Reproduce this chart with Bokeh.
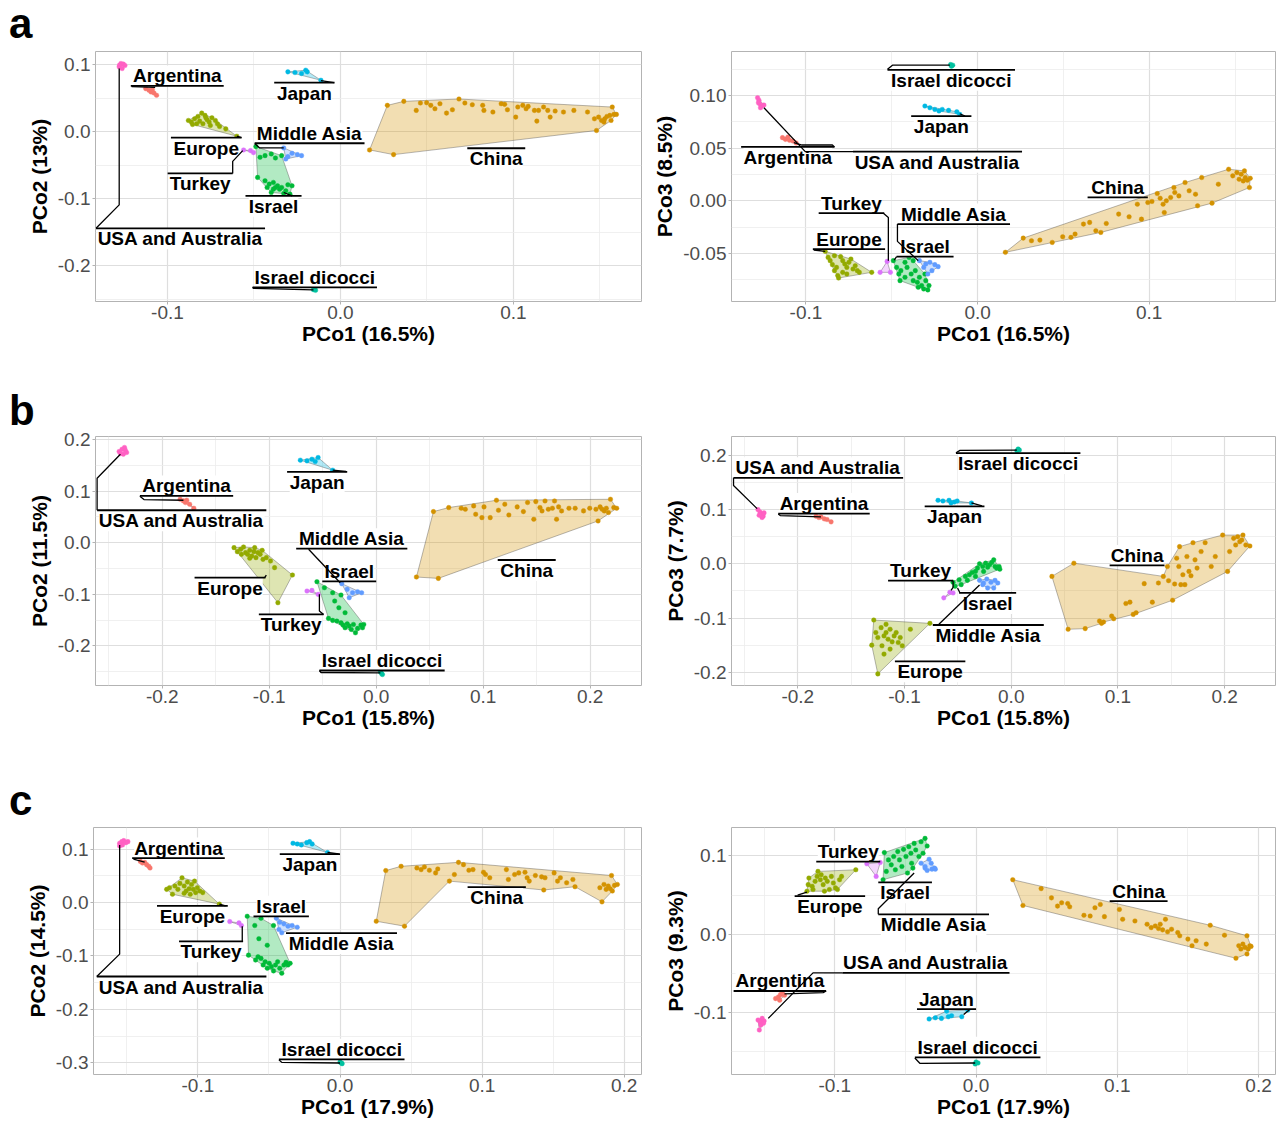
from bokeh.plotting import figure
from bokeh.layouts import row, column
from bokeh.models import FixedTicker, PrintfTickFormatter, Range1d, ColumnDataSource, Div
from bokeh.embed import file_html
from bokeh.resources import INLINE
from bokeh.core.properties import value

FONT = "Liberation Sans"
GROUPS = ["Argentina", "China", "Europe", "Israel", "Israel dicocci", "Japan",
          "Middle Asia", "Turkey", "USA and Australia"]
COLORS = ["#F8766D", "#D39200", "#93AA00", "#00BA38", "#00C19F", "#00B9E3",
          "#619CFF", "#DB72FB", "#FF61C3"]

# ---------------- panel a, PCo1 vs PCo2 ----------------
a1_usa_x = [-0.1279, -0.1269, -0.1255, -0.1246, -0.1262, -0.1277]
a1_usa_y = [0.0965, 0.1015, 0.1005, 0.0985, 0.094, 0.099]
a1_arg_x = [-0.1126, -0.1107, -0.1095, -0.1078, -0.1063, -0.1087]
a1_arg_y = [0.064, 0.0615, 0.059, 0.0575, 0.054, 0.0625]
a1_jap_x = [-0.0304, -0.0263, -0.0225, -0.0201, -0.0192, -0.0113]
a1_jap_y = [0.089, 0.088, 0.0865, 0.0915, 0.089, 0.0765]
a1_eur_x = [-0.0879, -0.0862, -0.0843, -0.0824, -0.0802, -0.0783, -0.0771, -0.0759, -0.0743, -0.0723,
            -0.0711, -0.0795, -0.0831, -0.0855, -0.0699, -0.0663, -0.0599, -0.0814, -0.0752, -0.0778]
a1_eur_y = [0.0165, 0.014, 0.019, 0.0225, 0.0275, 0.024, 0.0175, 0.014, 0.0205, 0.0165,
            0.0115, 0.0115, 0.0115, 0.0105, 0.0075, 0.004, -0.007, 0.0155, 0.009, 0.0205]
a1_tur_x = [-0.056, -0.052, -0.0503]
a1_tur_y = [-0.0275, -0.0285, -0.0315]
a1_isr_x = [-0.0489, -0.0465, -0.0436, -0.04, -0.0376, -0.034, -0.0479, -0.0436, -0.0412, -0.0388, -0.0376,
            -0.0364, -0.0352, -0.034, -0.0316, -0.0304, -0.028, -0.0328, -0.0292, -0.0388, -0.0424, -0.04]
a1_isr_y = [-0.0225, -0.0385, -0.036, -0.0335, -0.0395, -0.036, -0.0685, -0.0735, -0.0785, -0.076, -0.0835,
            -0.081, -0.086, -0.0835, -0.0885, -0.0795, -0.081, -0.0925, -0.0935, -0.086, -0.0835, -0.091]
a1_mas_x = [-0.0328, -0.0304, -0.028, -0.0249, -0.0225, -0.0316]
a1_mas_y = [-0.0245, -0.0375, -0.0325, -0.0345, -0.036, -0.041]
a1_dic_x = [-0.0156, -0.0144, -0.0149]
a1_dic_y = [-0.236, -0.237, -0.235]
a1_chn_x = [0.0168, 0.0307, 0.0271, 0.0366, 0.0438, 0.0462, 0.0498, 0.0522, 0.0546, 0.0575, 0.0613, 0.0647,
            0.0685, 0.0719, 0.0762, 0.0822, 0.0829, 0.0881, 0.0929, 0.0949, 0.0965, 0.1013, 0.1025, 0.1054,
            0.1073, 0.1085, 0.1121, 0.1135, 0.1145, 0.1174, 0.1198, 0.1212, 0.1241, 0.1289, 0.1349, 0.1428,
            0.1468, 0.148, 0.1492, 0.1509, 0.1528, 0.154, 0.1557, 0.1571, 0.1581, 0.1595, 0.1564, 0.1523]
a1_chn_y = [-0.0275, -0.0345, 0.039, 0.045, 0.0315, 0.0425, 0.043, 0.039, 0.034, 0.0415, 0.0275, 0.0325,
            0.0485, 0.0425, 0.04, 0.039, 0.0315, 0.029, 0.0415, 0.0405, 0.0325, 0.0215, 0.0365, 0.039,
            0.034, 0.0375, 0.0315, 0.0155, 0.0315, 0.0365, 0.0315, 0.0215, 0.0305, 0.029, 0.0315, 0.029,
            0.019, 0.0015, 0.0215, 0.0165, 0.019, 0.0225, 0.024, 0.0365, 0.0255, 0.0255, 0.0165, 0.014]

# ---------------- panel a, PCo1 vs PCo3 ----------------
a2_usa_x = [-0.1282, -0.1274, -0.127, -0.1258, -0.1245, -0.1265, -0.1277]
a2_usa_y = [0.0979, 0.0954, 0.0922, 0.09, 0.0909, 0.0884, 0.0931]
a2_arg_x = [-0.1137, -0.112, -0.1105, -0.1096, -0.1076, -0.1057]
a2_arg_y = [0.06, 0.0584, 0.0606, 0.0575, 0.0568, 0.0549]
a2_dic_x = [-0.0157, -0.0145, -0.0152]
a2_dic_y = [0.1294, 0.1288, 0.1279]
a2_jap_x = [-0.0307, -0.0278, -0.0249, -0.0225, -0.0206, -0.0169, -0.0121, -0.0104]
a2_jap_y = [0.09, 0.0884, 0.0868, 0.0853, 0.0868, 0.0859, 0.0846, 0.0821]
a2_eur_x = [-0.0888, -0.0871, -0.0859, -0.0846, -0.0834, -0.0815, -0.081, -0.0798, -0.0786, -0.0774, -0.0762,
            -0.075, -0.0738, -0.0726, -0.0713, -0.0701, -0.0689, -0.0786, -0.0822, -0.0834, -0.0617, -0.0762]
a2_eur_y = [-0.048, -0.0537, -0.0568, -0.0606, -0.0663, -0.071, -0.0733, -0.053, -0.0568, -0.06, -0.0632,
            -0.0584, -0.0553, -0.0647, -0.0616, -0.0663, -0.0679, -0.0679, -0.0632, -0.0521, -0.0679, -0.0695]
a2_tur_x = [-0.0527, -0.0568, -0.0508]
a2_tur_y = [-0.0575, -0.0679, -0.0679]
a2_isr_x = [-0.0491, -0.0472, -0.0459, -0.0447, -0.0423, -0.0411, -0.0399, -0.0387, -0.0375, -0.0363, -0.0351,
            -0.0346, -0.0339, -0.0326, -0.0314, -0.0302, -0.029, -0.0283, -0.0307, -0.0423, -0.0452, -0.0375]
a2_isr_y = [-0.0568, -0.0632, -0.0695, -0.0663, -0.0726, -0.0632, -0.0537, -0.0695, -0.0758, -0.0663, -0.0774,
            -0.0821, -0.0726, -0.0805, -0.0837, -0.0758, -0.0846, -0.0805, -0.0695, -0.0584, -0.0758, -0.0568]
a2_mas_x = [-0.0339, -0.0302, -0.0278, -0.0249, -0.023, -0.0266, -0.029, -0.0314]
a2_mas_y = [-0.0568, -0.06, -0.0584, -0.0606, -0.0625, -0.0663, -0.0695, -0.0632]
a2_chn_x = [0.0162, 0.0266, 0.0314, 0.0363, 0.0435, 0.0496, 0.0544, 0.0568, 0.0617, 0.0653, 0.0689, 0.0718,
            0.075, 0.0822, 0.0883, 0.0931, 0.0955, 0.0992, 0.1016, 0.1047, 0.1064, 0.1081, 0.1088, 0.11,
            0.1125, 0.1144, 0.1149, 0.1173, 0.1209, 0.1233, 0.127, 0.1282, 0.1306, 0.1366, 0.1403, 0.1463,
            0.1487, 0.1511, 0.1524, 0.1536, 0.1548, 0.156, 0.1572, 0.1584, 0.1589, 0.1555]
a2_chn_y = [-0.0489, -0.0354, -0.0379, -0.0373, -0.0395, -0.0341, -0.0347, -0.0316, -0.0221, -0.0205, -0.0284,
            -0.03, -0.0215, -0.0126, -0.0152, -0.0032, -0.0174, -0.0016, -0.0006, 0.0069, 0.0025, -0.0032,
            -0.0111, 0.0, 0.0032, 0.0126, 0.0079, 0.0047, 0.0174, 0.0095, 0.0063, -0.0047, 0.0221, -0.0022,
            0.0158, 0.03, 0.0237, 0.0268, 0.0205, 0.0253, 0.0189, 0.0221, 0.0196, 0.0126, 0.0215, 0.0284]

# ---------------- panel b, PCo1 vs PCo2 ----------------
b1_usa_x = [-0.2403, -0.2376, -0.2353, -0.2333, -0.2364, -0.2391, -0.2345]
b1_usa_y = [0.1767, 0.1812, 0.1845, 0.1748, 0.1715, 0.1728, 0.1793]
b1_arg_x = [-0.1833, -0.1802, -0.1771, -0.1783, -0.1744, -0.1705]
b1_arg_y = [0.0841, 0.0809, 0.0822, 0.0777, 0.0744, 0.0667]
b1_jap_x = [-0.0709, -0.0647, -0.0601, -0.057, -0.0543, -0.0407]
b1_jap_y = [0.1599, 0.1586, 0.1618, 0.1573, 0.165, 0.1405]
b1_eur_x = [-0.1329, -0.1298, -0.1267, -0.124, -0.1221, -0.1202, -0.1182, -0.1163, -0.1143, -0.1124, -0.1105,
            -0.1085, -0.1066, -0.1058, -0.1182, -0.126, -0.0988, -0.095, -0.0783, -0.0919, -0.1027, -0.1136]
b1_eur_y = [-0.0097, -0.0175, -0.0129, -0.0084, -0.0194, -0.0227, -0.0149, -0.0259, -0.0175, -0.0291, -0.0194,
            -0.0227, -0.0149, -0.0324, -0.0304, -0.0227, -0.0356, -0.0485, -0.0628, -0.1165, -0.0291, -0.0097]
b1_tur_x = [-0.0647, -0.0601, -0.0543]
b1_tur_y = [-0.0939, -0.0926, -0.1003]
b1_isr_x = [-0.0554, -0.0484, -0.0407, -0.0329, -0.0388, -0.0446, -0.0407, -0.0368, -0.0329, -0.031, -0.0291,
            -0.0271, -0.0252, -0.0233, -0.0213, -0.0194, -0.0174, -0.0143, -0.0116, -0.0128, -0.0349, -0.0291]
b1_isr_y = [-0.0757, -0.0874, -0.0971, -0.1016, -0.1133, -0.1469, -0.1508, -0.1521, -0.1553, -0.1599, -0.165,
            -0.1573, -0.1618, -0.1683, -0.1586, -0.1748, -0.1663, -0.1599, -0.1586, -0.165, -0.1262, -0.1359]
b1_mas_x = [-0.0322, -0.0271, -0.0252, -0.0221, -0.0174, -0.0136]
b1_mas_y = [-0.0796, -0.0906, -0.1068, -0.0971, -0.0951, -0.0971]
b1_dic_x = [0.005, 0.0039, 0.0058]
b1_dic_y = [-0.2537, -0.2505, -0.2557]
b1_chn_x = [0.0376, 0.0581, 0.0535, 0.0678, 0.0795, 0.0833, 0.0911, 0.093, 0.0988, 0.1008, 0.1124, 0.1066,
            0.1143, 0.1202, 0.124, 0.1318, 0.1376, 0.1415, 0.1473, 0.1492, 0.1531, 0.155, 0.1578, 0.1609,
            0.1647, 0.1667, 0.1686, 0.1705, 0.1733, 0.1802, 0.186, 0.1938, 0.1996, 0.2054, 0.2074, 0.2093,
            0.2132, 0.2151, 0.2171, 0.219, 0.2221, 0.2248, 0.2112]
b1_chn_y = [-0.0667, -0.0693, 0.0602, 0.068, 0.0667, 0.0647, 0.0712, 0.055, 0.0485, 0.0693, 0.0822, 0.0485,
            0.0628, 0.0744, 0.0537, 0.0693, 0.0602, 0.0777, 0.0453, 0.0796, 0.068, 0.0615, 0.0809, 0.0647,
            0.0667, 0.0809, 0.0453, 0.0693, 0.0615, 0.0667, 0.0667, 0.0615, 0.0667, 0.0647, 0.0421, 0.0693,
            0.0615, 0.0667, 0.0583, 0.0841, 0.068, 0.0667, 0.0647]

# ---------------- panel b, PCo1 vs PCo3 ----------------
b2_usa_x = [-0.2373, -0.2354, -0.2343, -0.2324, -0.2316, -0.2335, -0.2362]
b2_usa_y = [0.1, 0.0957, 0.0915, 0.0878, 0.0939, 0.0854, 0.0896]
b2_arg_x = [-0.1829, -0.1802, -0.1783, -0.1752, -0.1726, -0.1688]
b2_arg_y = [0.0878, 0.0854, 0.0866, 0.0829, 0.0817, 0.0774]
b2_dic_x = [0.0065, 0.0076, 0.0053]
b2_dic_y = [0.2116, 0.2098, 0.2085]
b2_jap_x = [-0.0686, -0.064, -0.0583, -0.0564, -0.0533, -0.0507, -0.0373]
b2_jap_y = [0.1171, 0.1159, 0.1171, 0.1122, 0.114, 0.1159, 0.1122]
b2_tur_x = [-0.0632, -0.0575, -0.0545]
b2_tur_y = [-0.0628, -0.0524, -0.0537]
b2_isr_x = [-0.0545, -0.0488, -0.043, -0.0392, -0.0366, -0.0335, -0.0316, -0.0297, -0.0267, -0.024, -0.0221,
            -0.0202, -0.0183, -0.0164, -0.0152, -0.0137, -0.0114, -0.0107, -0.0259, -0.0335, -0.0411, -0.0469,
            -0.0526]
b2_isr_y = [-0.0341, -0.0293, -0.0232, -0.0201, -0.0159, -0.014, -0.0079, 0.0, -0.0049, 0.0012, -0.0061,
            -0.0018, 0.0024, 0.0073, -0.0049, -0.0079, -0.0049, -0.0098, -0.014, -0.0232, -0.0305, -0.0384,
            -0.0415]
b2_mas_x = [-0.0297, -0.0259, -0.0229, -0.019, -0.0152, -0.0126, -0.0164, -0.0221, -0.0267]
b2_mas_y = [-0.0305, -0.0354, -0.028, -0.0341, -0.0305, -0.0354, -0.0445, -0.0445, -0.0384]
b2_eur_x = [-0.1288, -0.1307, -0.125, -0.0762, -0.1269, -0.125, -0.1219, -0.1192, -0.1173, -0.1154, -0.1135,
            -0.1116, -0.1097, -0.1078, -0.1059, -0.104, -0.1021, -0.1192, -0.1135, -0.1211, -0.0945, -0.1173]
b2_eur_y = [-0.1037, -0.15, -0.203, -0.1098, -0.1268, -0.136, -0.1177, -0.1329, -0.1268, -0.139, -0.1207,
            -0.1439, -0.1329, -0.1268, -0.1451, -0.136, -0.1512, -0.1665, -0.1573, -0.1512, -0.1207, -0.1116]
b2_chn_x = [0.0381, 0.0533, 0.0587, 0.0693, 0.0827, 0.0846, 0.0865, 0.096, 0.0941, 0.1074, 0.1112, 0.1143,
            0.117, 0.1246, 0.1322, 0.1379, 0.1425, 0.1463, 0.1474, 0.1512, 0.1531, 0.155, 0.157, 0.1589,
            0.1608, 0.1627, 0.1646, 0.1665, 0.1684, 0.1703, 0.1722, 0.1741, 0.1779, 0.1817, 0.1874, 0.1912,
            0.1981, 0.2027, 0.2046, 0.2084, 0.2103, 0.2122, 0.2141, 0.2171, 0.2198, 0.2236, 0.216, 0.1577]
b2_chn_y = [-0.0232, -0.1207, 0.0012, -0.1195, -0.1055, -0.1098, -0.1073, -0.1012, -0.0963, -0.0732, -0.0707,
            -0.0933, -0.0902, -0.0366, -0.0707, -0.0354, -0.0232, -0.0049, -0.0311, -0.0671, -0.0372, 0.0104,
            -0.0049, -0.0384, -0.0201, -0.0384, 0.0134, -0.014, -0.022, 0.039, 0.0073, -0.0079, 0.0226, 0.039,
            -0.0049, 0.0134, 0.053, -0.014, 0.0226, 0.047, 0.0348, 0.05, 0.0409, 0.053, 0.0348, 0.0329, 0.0439,
            0.0317]
b2_chn_hull = [0, 2, 16, 17, 47, 29, 36, 43, 45, 37, 19, 11, 6, 5, 3, 1]

# ---------------- panel c, PCo1 vs PCo2 ----------------
c1_usa_x = [-0.1551, -0.1536, -0.1522, -0.1507, -0.1493, -0.1531, -0.1551]
c1_usa_y = [0.1108, 0.1138, 0.1157, 0.112, 0.1138, 0.1077, 0.1058]
c1_arg_x = [-0.1405, -0.139, -0.1375, -0.1361, -0.1346, -0.1337]
c1_arg_y = [0.0769, 0.0738, 0.0751, 0.0708, 0.0677, 0.0646]
c1_jap_x = [-0.0331, -0.0301, -0.0272, -0.0234, -0.0214, -0.0196, -0.0088]
c1_jap_y = [0.1108, 0.1095, 0.1077, 0.112, 0.1138, 0.1095, 0.0935]
c1_eur_x = [-0.122, -0.12, -0.1179, -0.1162, -0.1141, -0.1127, -0.1112, -0.1097, -0.1083, -0.1074, -0.1062,
            -0.1045, -0.1033, -0.1024, -0.1016, -0.1004, -0.0986, -0.0966, -0.1054, -0.0849, -0.1097]
c1_eur_y = [0.0246, 0.0277, 0.0154, 0.0308, 0.0246, 0.0357, 0.0462, 0.0308, 0.0215, 0.0382, 0.0258,
            0.0338, 0.0246, 0.04, 0.0185, 0.0277, 0.0215, 0.0185, 0.0154, -0.0031, 0.0172]
c1_tur_x = [-0.0776, -0.0711, -0.0694]
c1_tur_y = [-0.0357, -0.0382, -0.0431]
c1_isr_x = [-0.0653, -0.0644, -0.06, -0.0556, -0.0577, -0.0556, -0.0541, -0.0527, -0.0512, -0.0498, -0.0483,
            -0.0468, -0.0468, -0.0454, -0.0439, -0.0424, -0.041, -0.0395, -0.038, -0.0366, -0.0351, -0.0571,
            -0.0512, -0.0594]
c1_isr_y = [-0.0258, -0.0985, -0.0431, -0.0295, -0.1015, -0.1046, -0.1169, -0.1108, -0.1231, -0.1138, -0.12,
            -0.0431, -0.128, -0.1169, -0.1108, -0.1231, -0.1323, -0.1169, -0.112, -0.1169, -0.1138, -0.0677,
            -0.08, -0.1077]
c1_mas_x = [-0.0448, -0.0424, -0.0395, -0.0366, -0.0337, -0.0301, -0.041, -0.043]
c1_mas_y = [-0.0295, -0.0369, -0.04, -0.0443, -0.0431, -0.0462, -0.0566, -0.0505]
c1_dic_x = [0.0009, 0.0, 0.0015]
c1_dic_y = [-0.3003, -0.2985, -0.3015]
c1_chn_x = [0.0255, 0.0322, 0.043, 0.0454, 0.0541, 0.0571, 0.0594, 0.0629, 0.0673, 0.0688, 0.077, 0.0805,
            0.0834, 0.0869, 0.0907, 0.0936, 0.101, 0.1024, 0.1054, 0.1171, 0.1185, 0.1229, 0.1258, 0.1302,
            0.1317, 0.1332, 0.1375, 0.1419, 0.1434, 0.1443, 0.1507, 0.1531, 0.1551, 0.1595, 0.1639, 0.1654,
            0.1829, 0.1844, 0.1858, 0.1873, 0.1888, 0.1902, 0.1911, 0.1932, 0.1952, 0.1917]
c1_chn_y = [-0.0351, 0.0597, 0.0677, -0.0443, 0.0646, 0.0615, 0.0665, 0.0603, 0.0554, 0.0628, 0.04, 0.0523,
            0.0751, 0.0708, 0.0603, 0.0615, 0.0566, 0.0523, 0.0462, 0.0615, 0.0431, 0.0523, 0.0554, 0.0566,
            0.0462, 0.04, 0.0505, 0.048, 0.0234, 0.0462, 0.0554, 0.04, 0.0462, 0.0369, 0.0431, 0.0295,
            0.0277, 0.0012, 0.0338, 0.0246, 0.0308, 0.0258, 0.0505, 0.032, 0.0338, 0.0215]
c1_chn_hull = [0, 1, 2, 12, 42, 44, 45, 37, 35, 28, 10, 3]

# ---------------- panel c, PCo1 vs PCo3 ----------------
c2_usa_x = [-0.1543, -0.1529, -0.1514, -0.15, -0.1523, -0.1534, -0.1505]
c2_usa_y = [-0.1097, -0.1118, -0.1076, -0.111, -0.116, -0.1224, -0.1139]
c2_arg_x = [-0.1419, -0.1399, -0.1384, -0.137, -0.1356, -0.139]
c2_arg_y = [-0.0823, -0.0802, -0.0772, -0.0759, -0.0781, -0.0844]
c2_jap_x = [-0.0332, -0.0288, -0.0245, -0.0208, -0.0196, -0.0173, -0.0101, -0.0058]
c2_jap_y = [-0.1084, -0.1068, -0.1076, -0.0983, -0.1055, -0.1042, -0.1055, -0.097]
c2_dic_x = [0.0, 0.0014, -0.0006]
c2_dic_y = [-0.1633, -0.1646, -0.1658]
c2_eur_x = [-0.1197, -0.1188, -0.1183, -0.116, -0.1139, -0.1125, -0.1119, -0.1102, -0.1096, -0.1082, -0.1067,
            -0.1053, -0.1038, -0.1024, -0.101, -0.0995, -0.0981, -0.0966, -0.0952, -0.0851, -0.1073, -0.1154]
c2_eur_y = [0.0549, 0.0633, 0.0717, 0.0612, 0.0675, 0.0738, 0.0802, 0.0696, 0.076, 0.0633, 0.0717,
            0.0675, 0.057, 0.0738, 0.0654, 0.0591, 0.057, 0.0696, 0.0738, 0.0823, 0.0549, 0.057]
c2_tur_x = [-0.0773, -0.0678, -0.0707]
c2_tur_y = [0.0899, 0.0916, 0.0738]
c2_isr_x = [-0.0649, -0.0658, -0.0635, -0.062, -0.06, -0.0583, -0.0571, -0.0554, -0.0542, -0.0525, -0.0513,
            -0.0496, -0.0485, -0.0476, -0.0461, -0.0456, -0.0438, -0.0427, -0.0404, -0.0389, -0.0361, -0.0346,
            -0.0375, -0.0447]
c2_isr_y = [0.1042, 0.0696, 0.0802, 0.0949, 0.0886, 0.0992, 0.0823, 0.1055, 0.0949, 0.0865, 0.1084,
            0.0992, 0.0781, 0.1118, 0.1034, 0.0907, 0.116, 0.1076, 0.0992, 0.1181, 0.1224, 0.1127,
            0.1034, 0.0844]
c2_mas_x = [-0.0389, -0.0361, -0.0346, -0.0332, -0.0312, -0.0294, -0.0288, -0.0317, -0.0361]
c2_mas_y = [0.0907, 0.0844, 0.0814, 0.0958, 0.0831, 0.0844, 0.0831, 0.0907, 0.0865]
c2_chn_x = [0.026, 0.0332, 0.0461, 0.0534, 0.0577, 0.0606, 0.0649, 0.0663, 0.0764, 0.0808, 0.0842, 0.088,
            0.0909, 0.1015, 0.1038, 0.1125, 0.1211, 0.124, 0.1269, 0.1292, 0.1304, 0.1321, 0.1341, 0.1356,
            0.1384, 0.1428, 0.1442, 0.15, 0.1529, 0.1558, 0.163, 0.1658, 0.1759, 0.184, 0.186, 0.1875,
            0.1889, 0.1904, 0.1918, 0.1927, 0.1938, 0.1918, 0.1947]
c2_chn_y = [0.0696, 0.0367, 0.0582, 0.0464, 0.0359, 0.0401, 0.0392, 0.035, 0.0241, 0.0232, 0.0338, 0.038,
            0.0224, 0.0316, 0.019, 0.0169, 0.0127, 0.0084, 0.0105, 0.0072, 0.0127, 0.0055, 0.019, 0.003,
            0.0063, 0.0021, -0.0021, -0.0063, -0.0148, -0.0084, -0.0127, 0.0114, -0.0013, -0.0308, -0.0148,
            -0.019, -0.0127, -0.0169, -0.0021, -0.019, -0.0148, -0.0253, -0.0156]

# axis tick values
A_X_TICKS = [-0.1, 0.0, 0.1]
A1_Y_TICKS = [-0.2, -0.1, 0.0, 0.1]
A2_Y_TICKS = [-0.05, 0.0, 0.05, 0.10]
B_X_TICKS = [-0.2, -0.1, 0.0, 0.1, 0.2]
B_Y_TICKS = [-0.2, -0.1, 0.0, 0.1, 0.2]
C_X_TICKS = [-0.1, 0.0, 0.1, 0.2]
C1_Y_TICKS = [-0.3, -0.2, -0.1, 0.0, 0.1]
C2_Y_TICKS = [-0.1, 0.0, 0.1]


def groups_of(prefix):
    g = globals()
    keys = ["arg", "chn", "eur", "isr", "dic", "jap", "mas", "tur", "usa"]
    return {name: (g[prefix + "_" + k + "_x"], g[prefix + "_" + k + "_y"]) for name, k in zip(GROUPS, keys)}


# ---------- label placements (layout): line y, line x0, x1, text side, connector ----------
A1_LAB = {
    "Argentina": (0.068, -0.1212, -0.0675, "above", [(-0.1071, 0.066), (-0.1207, 0.067)]),
    "USA and Australia": (-0.1445, -0.1413, -0.0436, "below", [(-0.1279, 0.094), (-0.1279, -0.1095), (-0.1413, -0.1445)]),
    "Japan": (0.073, -0.0383, -0.0034, "below", [(-0.0113, 0.076), (-0.0038, 0.073)]),
    "Europe": (-0.009, -0.098, -0.0572, "below", [(-0.0599, -0.007), (-0.0572, -0.009)]),
    "Middle Asia": (-0.0175, -0.0496, 0.0139, "above", [(-0.0328, -0.0245), (-0.0467, -0.0245), (-0.0496, -0.018)]),
    "Turkey": (-0.0625, -0.0999, -0.0623, "below", [(-0.0623, -0.0625), (-0.0623, -0.0445), (-0.0565, -0.0285)]),
    "Israel": (-0.096, -0.0549, -0.0225, "below", [(-0.0328, -0.091), (-0.028, -0.096)]),
    "China": (-0.025, 0.0733, 0.1068, "below", []),
    "Israel dicocci": (-0.2325, -0.0508, 0.0211, "above", [(-0.0156, -0.2365), (-0.0503, -0.234), (-0.0508, -0.2325)]),
}
A2_LAB = {
    "Israel dicocci": (0.1244, -0.0525, 0.0218, "below", [(-0.0162, 0.1288), (-0.0496, 0.1288), (-0.0525, 0.125)]),
    "Japan": (0.0805, -0.0387, -0.0036, "below", [(-0.0104, 0.0827), (-0.0073, 0.0805)]),
    "Argentina": (0.0512, -0.1378, -0.0834, "below", [(-0.1071, 0.0553), (-0.1023, 0.053), (-0.0846, 0.053), (-0.0834, 0.0512)]),
    "USA and Australia": (0.0467, -0.0726, 0.0259, "below", [(-0.1245, 0.0884), (-0.1004, 0.0467), (-0.0726, 0.0467)]),
    "Turkey": (-0.0117, -0.0926, -0.0544, "above", [(-0.0549, -0.0117), (-0.052, -0.0158), (-0.052, -0.0568)]),
    "Middle Asia": (-0.0221, -0.0467, 0.0189, "above", [(-0.0467, -0.0221), (-0.0467, -0.0385), (-0.0346, -0.0568)]),
    "Europe": (-0.0458, -0.096, -0.0539, "above", [(-0.0955, -0.0467), (-0.0888, -0.048)]),
    "Israel": (-0.053, -0.0472, -0.014, "above", [(-0.0472, -0.053), (-0.0486, -0.0562)]),
    "China": (0.0032, 0.0641, 0.0992, "above", []),
}
B1_LAB = {
    "USA and Australia": (0.0628, -0.2609, -0.1027, "below", [(-0.2391, 0.1715), (-0.2609, 0.1249), (-0.2609, 0.0628)]),
    "Argentina": (0.0906, -0.2209, -0.1337, "above", [(-0.1802, 0.0822), (-0.2171, 0.0835), (-0.2209, 0.09)]),
    "Japan": (0.1372, -0.0833, -0.0271, "below", [(-0.0407, 0.1405), (-0.0283, 0.1379)]),
    "Middle Asia": (-0.0117, -0.0748, 0.0291, "above", [(-0.0632, -0.0129), (-0.0337, -0.0777)]),
    "Israel": (-0.0751, -0.0504, 0.0, "above", []),
    "Europe": (-0.068, -0.1698, -0.1035, "below", [(-0.1043, -0.068), (-0.1027, -0.0628)]),
    "Turkey": (-0.1392, -0.1097, -0.0492, "below", [(-0.0492, -0.1392), (-0.0531, -0.1327), (-0.0531, -0.1003)]),
    "China": (-0.0337, 0.1136, 0.1678, "below", []),
    "Israel dicocci": (-0.2479, -0.0531, 0.064, "above", [(0.0039, -0.2524), (-0.0516, -0.2518), (-0.0531, -0.2479)]),
}
B2_LAB = {
    "USA and Australia": (0.1585, -0.2602, -0.1013, "above", [(-0.2602, 0.1585), (-0.2602, 0.1445), (-0.2381, 0.1018)]),
    "Argentina": (0.0927, -0.2183, -0.1326, "above", [(-0.1783, 0.0866), (-0.2164, 0.089), (-0.2183, 0.0921)]),
    "Israel dicocci": (0.2043, -0.0518, 0.0648, "below", [(0.0053, 0.2098), (-0.048, 0.2091), (-0.0518, 0.2049)]),
    "Japan": (0.1061, -0.0811, -0.0251, "below", [(-0.0373, 0.1122), (-0.0274, 0.1067)]),
    "Turkey": (-0.0311, -0.1154, -0.0545, "above", [(-0.0545, -0.0311), (-0.0545, -0.0433), (-0.0564, -0.0488)]),
    "Israel": (-0.0537, -0.0488, 0.0046, "below", [(-0.048, -0.0537), (-0.0503, -0.0445)]),
    "Middle Asia": (-0.1128, -0.0735, 0.0305, "below", [(-0.0678, -0.1116), (-0.0297, -0.039)]),
    "Europe": (-0.1799, -0.109, -0.043, "below", []),
    "China": (-0.003, 0.0922, 0.1436, "above", []),
}
C1_LAB = {
    "Argentina": (0.0831, -0.1463, -0.0811, "above", [(-0.1375, 0.0757), (-0.1454, 0.0812)]),
    "USA and Australia": (-0.1385, -0.1712, -0.0518, "below", [(-0.1551, 0.1077), (-0.1551, -0.0966), (-0.1712, -0.1385)]),
    "Japan": (0.0905, -0.0424, 0.0, "below", [(-0.0088, 0.0935), (-0.0009, 0.0911)]),
    "Europe": (-0.0062, -0.1288, -0.079, "below", [(-0.0849, -0.0031), (-0.0805, -0.0062)]),
    "Israel": (-0.0258, -0.0609, -0.0219, "above", []),
    "Turkey": (-0.0726, -0.1133, -0.0682, "below", [(-0.0688, -0.0726), (-0.0688, -0.0443)]),
    "Middle Asia": (-0.0572, -0.038, 0.0401, "below", []),
    "China": (0.0289, 0.0898, 0.1308, "below", []),
    "Israel dicocci": (-0.2935, -0.043, 0.0454, "above", [(0.0, -0.3003), (-0.041, -0.2991), (-0.043, -0.2942)]),
}
C2_LAB = {
    "Turkey": (0.0928, -0.1131, -0.0678, "above", []),
    "Europe": (0.0485, -0.1284, -0.0785, "below", [(-0.1197, 0.0536), (-0.1263, 0.0498)]),
    "Israel": (0.0662, -0.0692, -0.0312, "below", []),
    "Middle Asia": (0.0253, -0.0692, 0.0092, "below", [(-0.0692, 0.0253), (-0.0692, 0.0325), (-0.0438, 0.0781)]),
    "China": (0.0422, 0.0946, 0.1356, "above", []),
    "USA and Australia": (-0.0494, -0.0946, 0.0237, "above", [(-0.1471, -0.1076), (-0.1154, -0.0494), (-0.0946, -0.0494)]),
    "Argentina": (-0.0726, -0.1716, -0.1061, "above", [(-0.1356, -0.0764), (-0.1082, -0.0747), (-0.1061, -0.0726)]),
    "Japan": (-0.0958, -0.0418, 0.0, "above", [(-0.0043, -0.0958), (-0.0087, -0.1025)]),
    "Israel dicocci": (-0.1574, -0.0433, 0.0456, "above", [(-0.0006, -0.1646), (-0.0398, -0.165), (-0.0433, -0.1582)]),
}


def convex_hull(pts):
    pts = sorted(set(pts))
    if len(pts) <= 2:
        return pts

    def cross(o, a, b):
        return (a[0] - o[0]) * (b[1] - o[1]) - (a[1] - o[1]) * (b[0] - o[0])
    lower = []
    for q in pts:
        while len(lower) >= 2 and cross(lower[-2], lower[-1], q) <= 0:
            lower.pop()
        lower.append(q)
    upper = []
    for q in reversed(pts):
        while len(upper) >= 2 and cross(upper[-2], upper[-1], q) <= 0:
            upper.pop()
        upper.append(q)
    return lower[:-1] + upper[:-1]


def minor_between(ticks, lo, hi):
    step = ticks[1] - ticks[0]
    out = []
    t = ticks[0] - step / 2
    while t >= lo:
        t -= step
    t += step
    while t <= hi:
        if all(abs(t - m) > 1e-9 for m in ticks):
            out.append(round(t, 4))
        t += step / 2
    return out


def make_panel(prefix, hulls, labels, xr, yr, xt, yt, yfmt, xlabel, ylabel,
               width, height, borders):
    p = figure(width=width, height=height, x_range=Range1d(*xr), y_range=Range1d(*yr),
               output_backend="svg", toolbar_location=None, title=None,
               min_border_left=borders[0], min_border_right=borders[1],
               min_border_top=borders[2], min_border_bottom=borders[3])
    p.background_fill_color = "white"
    p.border_fill_color = "white"
    p.outline_line_color = "#B3B3B3"
    p.outline_line_width = 1

    xtick = FixedTicker(ticks=xt, minor_ticks=minor_between(xt, xr[0], xr[1]))
    ytick = FixedTicker(ticks=yt, minor_ticks=minor_between(yt, yr[0], yr[1]))
    p.xaxis.ticker = xtick
    p.yaxis.ticker = ytick
    p.xgrid.ticker = xtick
    p.ygrid.ticker = ytick
    p.xaxis.formatter = PrintfTickFormatter(format="%.1f")
    p.yaxis.formatter = PrintfTickFormatter(format=yfmt)
    for ax in (p.xaxis[0], p.yaxis[0]):
        ax.axis_line_color = None
        ax.major_tick_line_color = "#B3B3B3"
        ax.major_tick_out = 3
        ax.major_tick_in = 0
        ax.minor_tick_line_color = None
        ax.major_label_text_font = FONT
        ax.major_label_text_font_size = "19px"
        ax.major_label_text_color = "#4D4D4D"
        ax.axis_label_text_font = FONT
        ax.axis_label_text_font_size = "21px"
        ax.axis_label_text_font_style = "bold"
        ax.axis_label_text_color = "black"
    p.xaxis.major_label_standoff = 0
    p.xaxis.axis_label_standoff = 0
    p.yaxis.major_label_standoff = 1
    p.yaxis.axis_label_standoff = 4
    p.xaxis.axis_label = xlabel
    p.yaxis.axis_label = ylabel
    for g in (p.xgrid[0], p.ygrid[0]):
        g.grid_line_color = "#DEDEDE"
        g.grid_line_width = 1.2
        g.minor_grid_line_color = "#ECECEC"
        g.minor_grid_line_width = 0.8

    groups = groups_of(prefix)
    for name, col in zip(GROUPS, COLORS):
        xs, ys = groups[name]
        pts = list(zip(xs, ys))
        hp = [pts[i] for i in hulls[name]] if name in hulls else convex_hull(pts)
        p.patch([q[0] for q in hp], [q[1] for q in hp], fill_color=col, fill_alpha=0.3,
                line_color="#444444", line_alpha=0.55, line_width=0.7)
    for name, col in zip(GROUPS, COLORS):
        xs, ys = groups[name]
        p.scatter(xs, ys, size=4.6, fill_color=col, line_color=col, line_width=0.4)

    tx, ty, tt, to = [], [], [], []
    sx0, sx1, sy = [], [], []
    cxs, cys = [], []
    for name, (ly, x0, x1, side, con) in labels.items():
        tx.append((x0 + x1) / 2)
        ty.append(ly)
        tt.append(name)
        to.append(-10 if side == "above" else 10.5)
        sx0.append(x0)
        sx1.append(x1)
        sy.append(ly)
        if con:
            cxs.append([c[0] for c in con])
            cys.append([c[1] for c in con])
    src = ColumnDataSource(dict(x=tx, y=ty, text=tt, yoff=to))
    p.text(x="x", y="y", text="text", y_offset="yoff", source=src,
           text_font=value(FONT), text_font_style="bold", text_font_size="19px",
           text_color="black", text_align="center", text_baseline="middle",
           background_fill_color="white", background_fill_alpha=1.0)
    if cxs:
        p.multi_line(cxs, cys, line_color="black", line_width=1.3)
    p.segment(x0=sx0, y0=sy, x1=sx1, y1=sy, line_color="black", line_width=1.8)
    return p


def letter(txt, lh):
    return Div(text=txt, width=120, height=40, margin=0,
               styles={"font-family": FONT, "font-size": "42px", "font-weight": "bold",
                       "line-height": lh, "padding-left": "9px", "color": "black"})


pa1 = make_panel("a1", {}, A1_LAB, (-0.1416, 0.174), (-0.2537, 0.1194), A_X_TICKS, A1_Y_TICKS, "%.1f",
                 "PCo1 (16.5%)", "PCo2 (13%)", 648, 346, (95, 7, 11, 85))
pa2 = make_panel("a2", {}, A2_LAB, (-0.1434, 0.1736), (-0.0956, 0.1418), A_X_TICKS, A2_Y_TICKS, "%.2f",
                 "PCo1 (16.5%)", "PCo3 (8.5%)", 629, 346, (83, 2, 11, 85))
pb1 = make_panel("b1", {}, B1_LAB, (-0.2624, 0.248), (-0.277, 0.2058), B_X_TICKS, B_Y_TICKS, "%.1f",
                 "PCo1 (15.8%)", "PCo2 (11.5%)", 648, 350, (95, 7, 10, 91))
pb2 = make_panel("b2", {"China": b2_chn_hull}, B2_LAB, (-0.2621, 0.2476), (-0.2244, 0.2348), B_X_TICKS,
                 B_Y_TICKS, "%.1f", "PCo1 (15.8%)", "PCo3 (7.7%)", 629, 350, (83, 2, 10, 91))
pc1 = make_panel("c1", {"China": c1_chn_hull}, C1_LAB, (-0.1735, 0.2122), (-0.3218, 0.1403), C_X_TICKS,
                 C1_Y_TICKS, "%.1f", "PCo1 (17.9%)", "PCo2 (14.5%)", 648, 306, (93, 7, 11, 48))
pc2 = make_panel("c2", {}, C2_LAB, (-0.1731, 0.212), (-0.1793, 0.1363), C_X_TICKS, C2_Y_TICKS, "%.1f",
                 "PCo1 (17.9%)", "PCo3 (9.3%)", 629, 306, (83, 2, 11, 48))

layout = column(letter("a", "47px"), row(pa1, pa2),
                letter("b", "49px"), row(pb1, pb2),
                letter("c", "49px"), row(pc1, pc2))
open("out.html", "w").write(file_html(layout, INLINE))
